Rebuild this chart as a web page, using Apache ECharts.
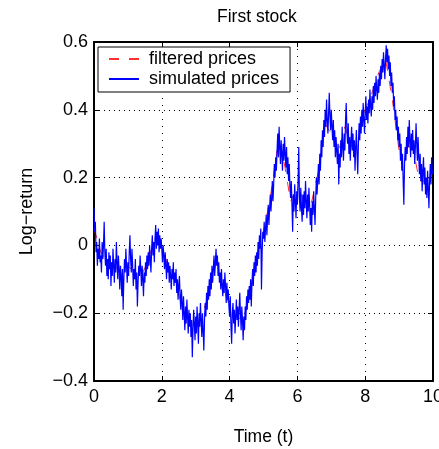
<!DOCTYPE html>
<html>
<head>
<meta charset="utf-8">
<script src="https://cdn.jsdelivr.net/npm/echarts@6/dist/echarts.min.js"></script>
<style>
  html, body { margin: 0; padding: 0; background: #fff; }
  #chart { width: 439px; height: 449px; }
</style>
</head>
<body>
<div id="chart"></div>
<script>
// simulated log-return, sampled every 0.02 time units (t = 0 .. 10), one row = 0.2
const simDt = 0.02;
const simulated = [
  0.11, 0.04, 0.07, -0.02, 0.01, -0.06, -0.01, -0.04, 0.02, -0.05,
  -0.03, -0.08, 0.01, -0.04, 0.00, 0.07, -0.02, -0.06, -0.01, -0.09,
  -0.04, -0.10, -0.02, -0.07, -0.03, -0.12, -0.05, -0.09, -0.01, -0.06,
  -0.11, -0.04, -0.08, 0.01, -0.05, -0.10, -0.03, -0.07, -0.13, -0.06,
  -0.09, -0.15, -0.07, -0.19, -0.10, -0.04, -0.08, -0.01, -0.06, -0.11,
  -0.05, -0.09, -0.02, 0.03, -0.04, -0.08, -0.01, -0.06, -0.12, -0.07,
  -0.10, -0.04, -0.13, -0.08, -0.18, -0.11, -0.06, -0.09, -0.03, -0.07,
  -0.12, -0.06, -0.10, -0.15, -0.08, -0.11, -0.05, -0.09, -0.03, -0.07,
  -0.02, -0.06, 0.00, -0.04, -0.08, -0.01, 0.03, -0.03, 0.01, -0.05,
  0.02, 0.06, -0.01, 0.04, 0.00, 0.05, -0.02, 0.03, -0.01, 0.02,
  -0.01, -0.05, 0.00, -0.03, -0.07, -0.02, -0.06, -0.10, -0.04, -0.08,
  -0.05, -0.11, -0.06, -0.09, -0.13, -0.07, -0.10, -0.05, -0.12, -0.08,
  -0.11, -0.07, -0.14, -0.10, -0.16, -0.12, -0.09, -0.15, -0.19, -0.13,
  -0.17, -0.22, -0.15, -0.20, -0.25, -0.18, -0.23, -0.16, -0.21, -0.26,
  -0.19, -0.24, -0.20, -0.27, -0.22, -0.33, -0.25, -0.19, -0.23, -0.28,
  -0.21, -0.26, -0.18, -0.23, -0.29, -0.20, -0.24, -0.17, -0.22, -0.27,
  -0.20, -0.25, -0.31, -0.22, -0.17, -0.21, -0.14, -0.19, -0.12, -0.16,
  -0.10, -0.15, -0.08, -0.13, -0.06, -0.11, -0.07, -0.03, -0.09, -0.05,
  -0.01, -0.06, -0.03, -0.09, -0.05, -0.11, -0.08, -0.13, -0.07, -0.12,
  -0.15, -0.10, -0.14, -0.08, -0.12, -0.17, -0.11, -0.16, -0.13, -0.18,
  -0.21, -0.15, -0.24, -0.29, -0.20, -0.17, -0.23, -0.19, -0.26, -0.21,
  -0.16, -0.22, -0.18, -0.24, -0.19, -0.14, -0.20, -0.25, -0.18, -0.22,
  -0.28, -0.21, -0.25, -0.18, -0.22, -0.15, -0.19, -0.13, -0.17, -0.12,
  -0.16, -0.10, -0.18, -0.11, -0.07, -0.12, -0.05, -0.09, -0.03, -0.08,
  -0.02, -0.06, 0.01, -0.04, 0.03, -0.01, 0.05, -0.13, -0.02, 0.04,
  0.02, 0.07, 0.01, 0.05, 0.09, 0.03, 0.08, 0.12, 0.06, 0.11,
  0.15, 0.10, 0.14, 0.19, 0.13, 0.18, 0.24, 0.20, 0.26, 0.22,
  0.28, 0.33, 0.26, 0.35, 0.29, 0.24, 0.31, 0.27, 0.22, 0.30,
  0.25, 0.32, 0.27, 0.23, 0.29, 0.21, 0.26, 0.19, 0.24, 0.17,
  0.14, 0.19, 0.12, 0.04, 0.15, 0.10, 0.18, 0.13, 0.08, 0.16,
  0.12, 0.19, 0.29, 0.14, 0.10, 0.17, 0.11, 0.07, 0.15, 0.09,
  0.16, 0.11, 0.19, 0.13, 0.08, 0.15, 0.10, 0.17, 0.12, 0.06,
  0.11, 0.04, 0.13, 0.09, 0.16, 0.11, 0.06, 0.14, 0.20, 0.15,
  0.19, 0.24, 0.18, 0.27, 0.22, 0.31, 0.26, 0.34, 0.29, 0.37,
  0.32, 0.40, 0.35, 0.43, 0.37, 0.33, 0.39, 0.45, 0.38, 0.34,
  0.40, 0.35, 0.31, 0.37, 0.29, 0.34, 0.26, 0.32, 0.28, 0.24,
  0.30, 0.18, 0.27, 0.23, 0.31, 0.26, 0.35, 0.29, 0.25, 0.33,
  0.28, 0.37, 0.42, 0.34, 0.30, 0.36, 0.27, 0.32, 0.25, 0.31,
  0.35, 0.28, 0.33, 0.26, 0.31, 0.22, 0.29, 0.34, 0.27, 0.21,
  0.30, 0.36, 0.31, 0.38, 0.33, 0.40, 0.35, 0.42, 0.37, 0.33,
  0.39, 0.44, 0.37, 0.41, 0.36, 0.43, 0.39, 0.46, 0.41, 0.38,
  0.44, 0.40, 0.47, 0.42, 0.48, 0.44, 0.50, 0.46, 0.43, 0.49,
  0.45, 0.51, 0.47, 0.53, 0.49, 0.55, 0.51, 0.57, 0.53, 0.49,
  0.55, 0.59, 0.54, 0.58, 0.52, 0.56, 0.50, 0.54, 0.47, 0.51,
  0.45, 0.48, 0.41, 0.44, 0.37, 0.40, 0.34, 0.38, 0.31, 0.35,
  0.29, 0.33, 0.25, 0.30, 0.22, 0.27, 0.19, 0.12, 0.24, 0.29,
  0.25, 0.32, 0.27, 0.35, 0.29, 0.37, 0.31, 0.26, 0.33, 0.28,
  0.34, 0.27, 0.31, 0.24, 0.29, 0.36, 0.30, 0.25, 0.32, 0.26,
  0.21, 0.27, 0.19, 0.24, 0.16, 0.22, 0.26, 0.18, 0.23, 0.15,
  0.20, 0.14, 0.22, 0.17, 0.11, 0.19, 0.24, 0.18, 0.26, 0.21,
  0.22
];

// filtered estimate, every 0.2 time units
const filtDt = 0.2;
const filtered = [
  0.05, -0.02, -0.05, -0.06, -0.08, -0.06, -0.08, -0.09, -0.04, 0.02,
  0.00, -0.07, -0.11, -0.18, -0.22, -0.24, -0.20, -0.14, -0.05, -0.12,
  -0.18, -0.21, -0.22, -0.15, -0.03, 0.04, 0.14, 0.28, 0.25, 0.13,
  0.17, 0.13, 0.12, 0.21, 0.36, 0.33, 0.27, 0.35, 0.29, 0.33,
  0.40, 0.45, 0.51, 0.55, 0.43, 0.28, 0.29, 0.29, 0.19, 0.19,
  0.22
];

const xTicks = [0, 10, 2];       // min, max, interval
const yTicks = [-0.4, 0.6, 0.2];

const font = "'Liberation Sans', Arial, Helvetica, sans-serif";
const fmtY = v => {
  let s = Math.abs(v) < 1e-9 ? "0" : v.toFixed(1);
  return s.replace("-", "\u2212");
};

const chart = echarts.init(document.getElementById("chart"));

const boxAxis = {
  axisLine: { show: true, onZero: false, lineStyle: { color: "#000", width: 2 } },
  axisTick: { show: true, inside: true, length: 5, lineStyle: { color: "#000", width: 1 } },
};

const option = {
  animation: false,
  backgroundColor: "#fff",
  title: {
    text: "First stock",
    left: 212,
    top: 3,
    textStyle: { fontFamily: font, fontSize: 17.5, fontWeight: "normal", color: "#000" },
  },
  legend: {
    orient: "vertical",
    left: 98,
    top: 47,
    padding: [2, 11, 3, 10],
    itemWidth: 30,
    itemHeight: 14,
    itemGap: 0,
    borderColor: "#000",
    borderWidth: 1,
    backgroundColor: "#fff",
    itemStyle: { opacity: 0 },
    textStyle: { fontFamily: font, fontSize: 18, color: "#000", lineHeight: 20, padding: [0, 0, 0, 5] },
    data: ["filtered prices", "simulated prices"],
  },
  grid: { left: 94, right: 6, top: 42, bottom: 68, outerBoundsMode: "none", containLabel: false },
  xAxis: [
    {
      type: "value",
      min: xTicks[0],
      max: xTicks[1],
      interval: xTicks[2],
      position: "bottom",
      name: "Time (t)",
      nameLocation: "middle",
      nameGap: 47,
      nameTextStyle: { fontFamily: font, fontSize: 17.5, color: "#000" },
      ...boxAxis,
      axisLabel: { fontFamily: font, fontSize: 18, color: "#000", margin: 7 },
      splitLine: { show: true, lineStyle: { color: "#000", width: 1, type: [1, 6] } },
    },
    {
      type: "value",
      min: xTicks[0],
      max: xTicks[1],
      interval: xTicks[2],
      position: "top",
      ...boxAxis,
      axisLabel: { show: false },
      splitLine: { show: false },
    },
  ],
  yAxis: [
    {
      type: "value",
      min: yTicks[0],
      max: yTicks[1],
      interval: yTicks[2],
      position: "left",
      name: "Log\u2212return",
      nameLocation: "middle",
      nameGap: 58,
      nameTextStyle: { fontFamily: font, fontSize: 18, color: "#000" },
      ...boxAxis,
      axisLabel: { fontFamily: font, fontSize: 18, color: "#000", margin: 6, formatter: fmtY },
      splitLine: { show: true, lineStyle: { color: "#000", width: 1, type: [1, 4] } },
    },
    {
      type: "value",
      min: yTicks[0],
      max: yTicks[1],
      interval: yTicks[2],
      position: "right",
      ...boxAxis,
      axisLabel: { show: false },
      splitLine: { show: false },
    },
  ],
  series: [
    {
      name: "filtered prices",
      type: "line",
      xAxisIndex: 0,
      yAxisIndex: 0,
      data: filtered.map((v, i) => [i * filtDt, v]),
      symbol: "none",
      lineStyle: { color: "#ff3030", width: 1, type: [10, 10] },
      itemStyle: { color: "#ff3030" },
      z: 2,
    },
    {
      name: "simulated prices",
      type: "line",
      xAxisIndex: 0,
      yAxisIndex: 0,
      data: simulated.map((v, i) => [i * simDt, v]),
      symbol: "none",
      lineStyle: { color: "#0000ff", width: 1.2 },
      itemStyle: { color: "#0000ff" },
      z: 3,
    },
  ],
};

chart.setOption(option);
</script>
</body>
</html>
